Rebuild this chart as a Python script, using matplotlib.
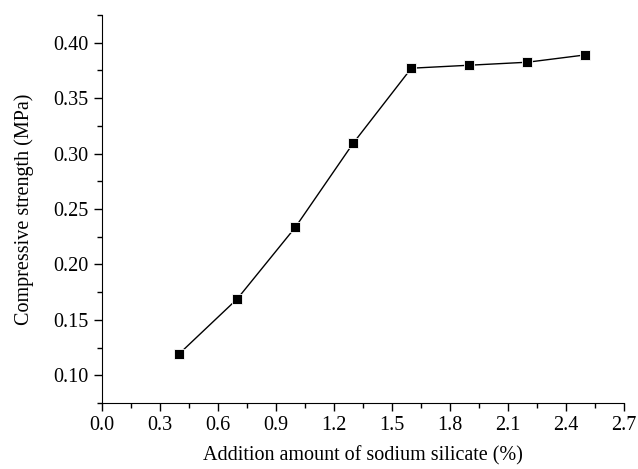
import matplotlib
matplotlib.use("Agg")
import matplotlib.pyplot as plt
from matplotlib.ticker import MultipleLocator, FormatStrFormatter

# sodium silicate dosage (%) and compressive strength (MPa)
dosage = [0.4, 0.7, 1.0, 1.3, 1.6, 1.9, 2.2, 2.5]
strength = [0.1195, 0.169, 0.2335, 0.3095, 0.377, 0.3797, 0.3824, 0.389]

plt.rcParams['font.family'] = ['Liberation Serif', 'DejaVu Serif']

fig = plt.figure(figsize=(6.38, 4.69), dpi=100)
ax = fig.add_axes([102 / 638, 1 - 403 / 469, (624 - 102) / 638, (403 - 15) / 469])

ax.plot(dosage, strength, color='black', lw=1.0, marker='s', ms=6.5,
        mfc='black', mec='white', mew=0.6)

ax.set_xlim(0.0, 2.7)
ax.set_ylim(0.075, 0.425)
ax.xaxis.set_major_locator(MultipleLocator(0.3))
ax.xaxis.set_minor_locator(MultipleLocator(0.15))
ax.yaxis.set_major_locator(MultipleLocator(0.05))
ax.yaxis.set_minor_locator(MultipleLocator(0.025))
ax.xaxis.set_major_formatter(FormatStrFormatter('%.1f'))
ax.yaxis.set_major_formatter(FormatStrFormatter('%.2f'))

ax.spines['top'].set_visible(False)
ax.spines['right'].set_visible(False)
ax.tick_params(which='major', direction='out', length=6, width=1, labelsize=14.5)
ax.tick_params(which='minor', direction='out', length=3.5, width=1)

ax.set_xlabel('Addition amount of sodium silicate (%)', fontsize=14.5, labelpad=8)
ax.set_ylabel('Compressive strength (MPa)', fontsize=14.5, labelpad=14)

fig.savefig('out.png', dpi=100)
